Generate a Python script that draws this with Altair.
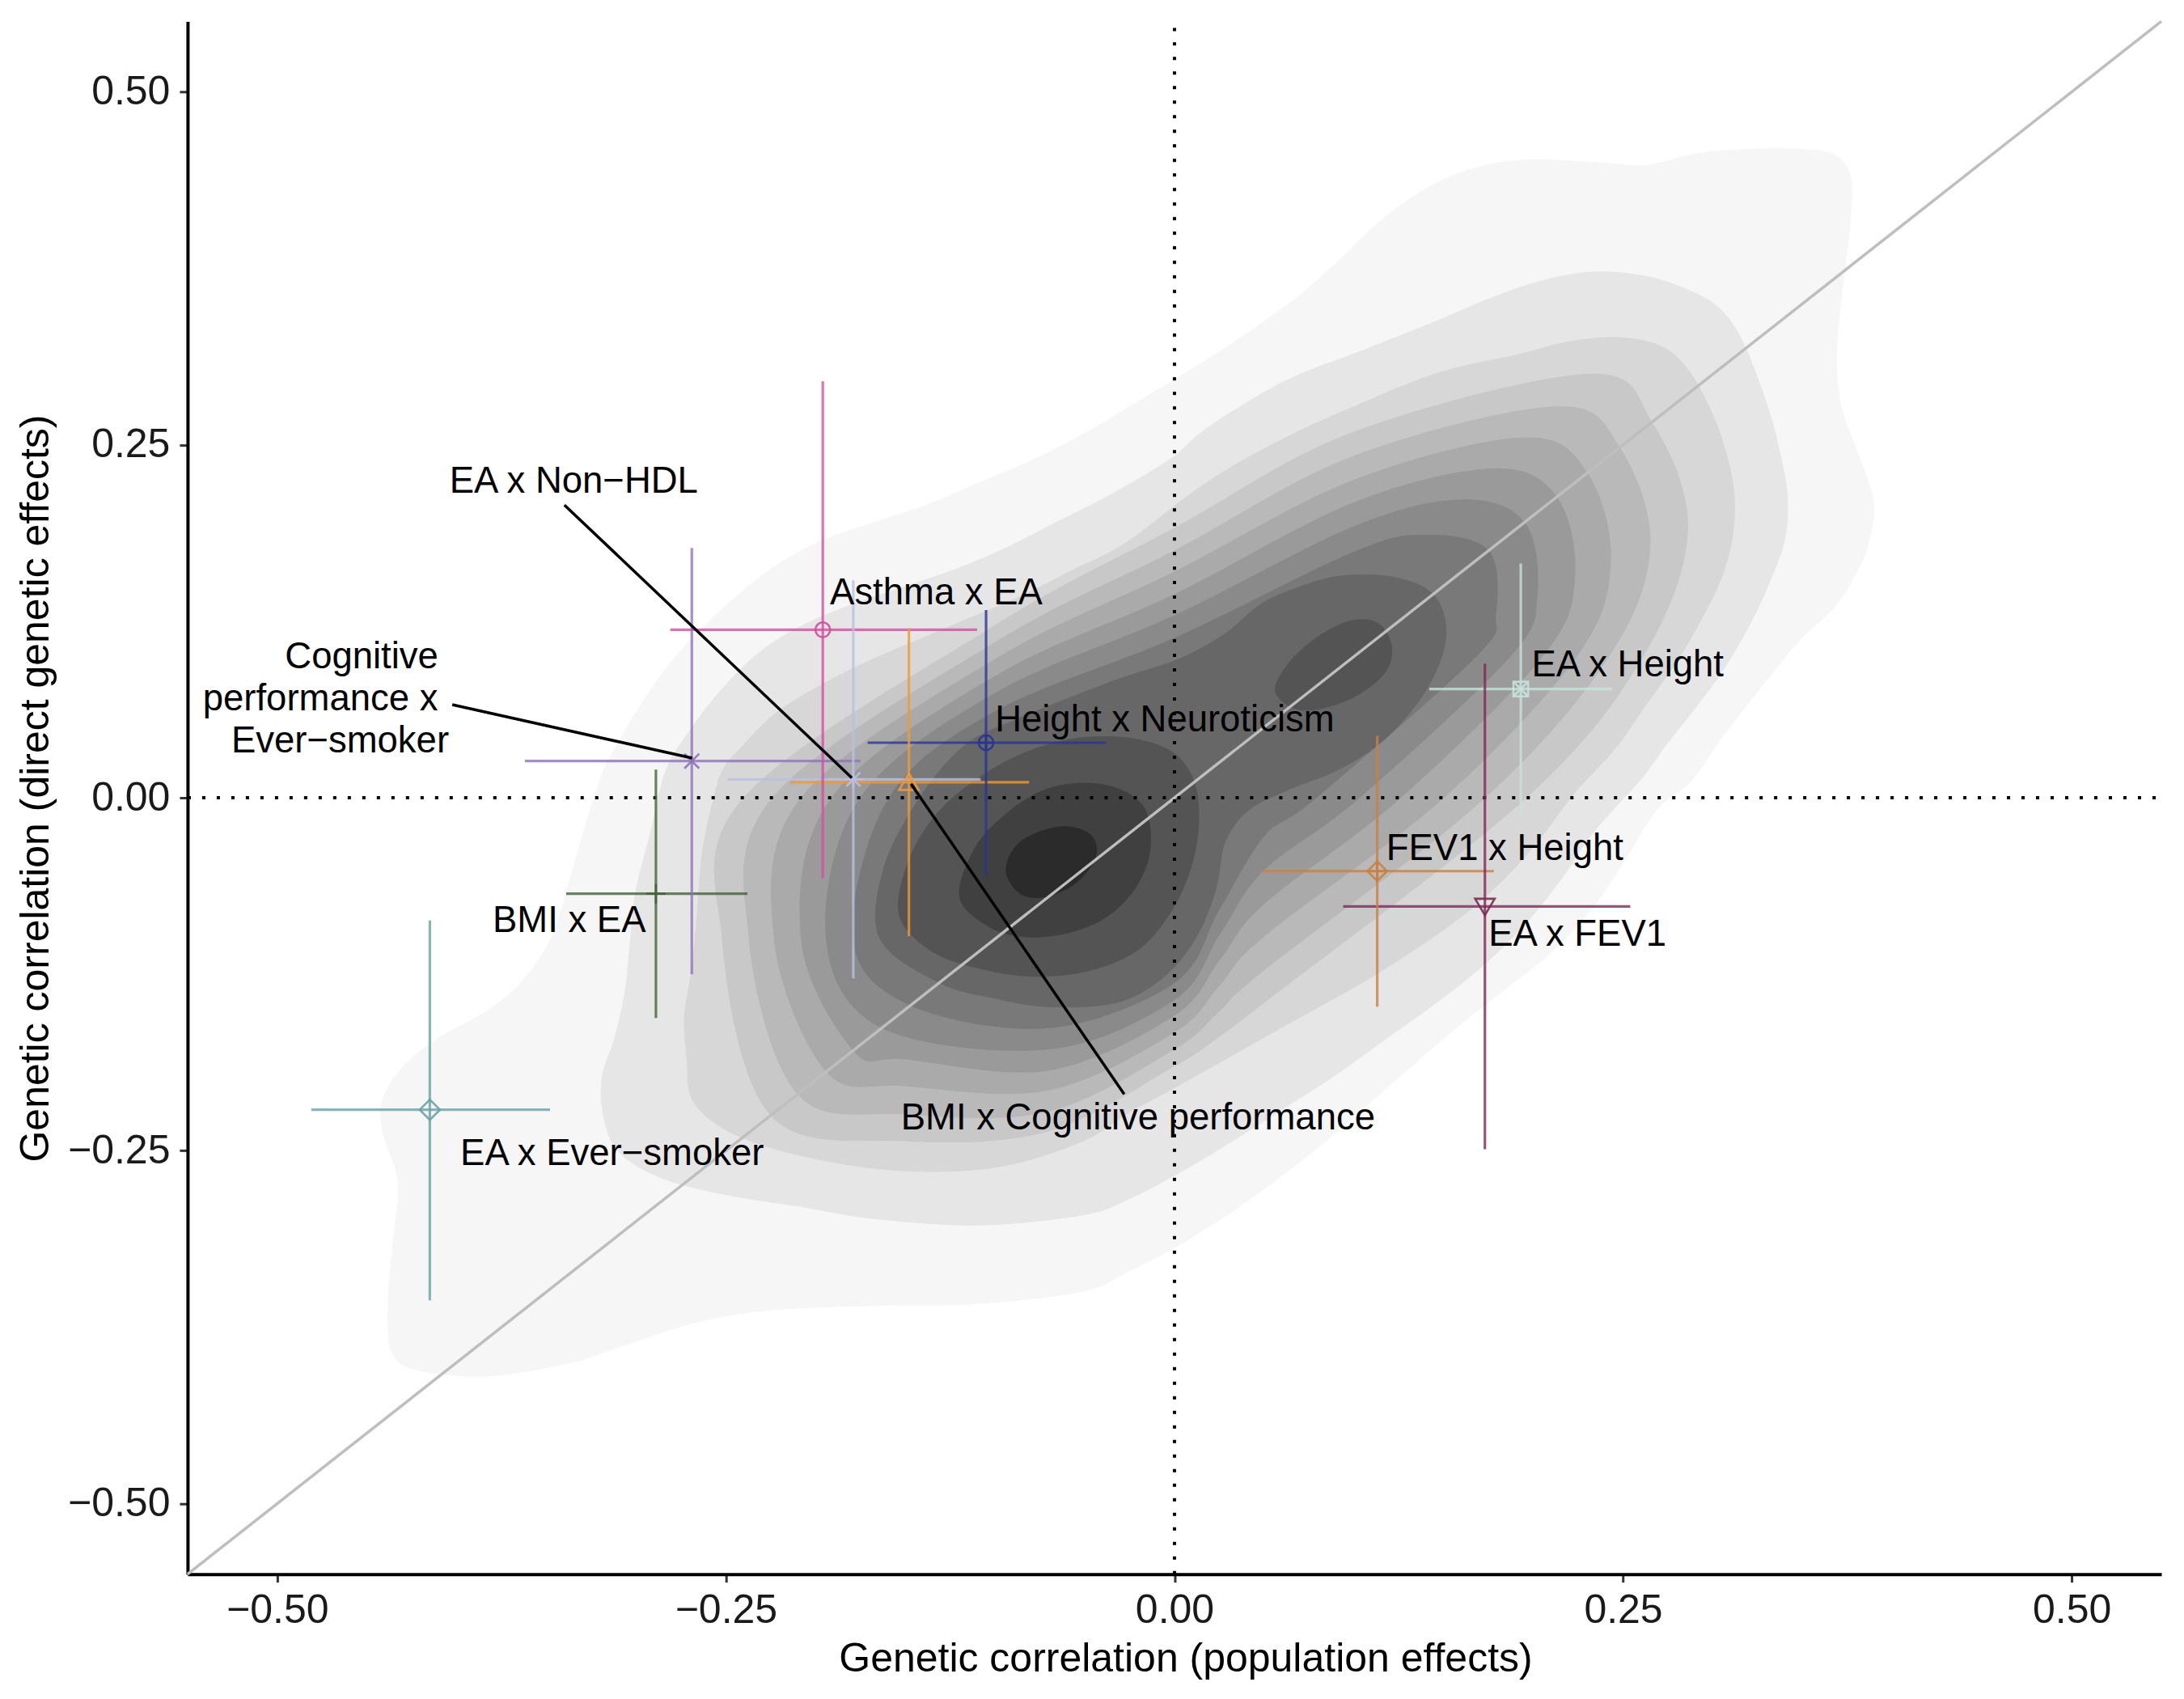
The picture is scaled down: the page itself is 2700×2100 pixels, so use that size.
import altair as alt
import pandas as pd

# ---------------- point estimates and 95% intervals ----------------
pairs = ["Asthma x EA", "Cognitive performance x Ever−smoker", "EA x Non−HDL",
         "BMI x Cognitive performance", "Height x Neuroticism", "BMI x EA",
         "EA x Ever−smoker", "EA x Height", "FEV1 x Height", "EA x FEV1"]
pop_est = [-0.196, -0.269, -0.179, -0.148, -0.105, -0.289, -0.415, 0.193, 0.113, 0.173]
pop_lo = [-0.281, -0.362, -0.249, -0.214, -0.171, -0.339, -0.481, 0.142, 0.049, 0.094]
pop_hi = [-0.110, -0.175, -0.108, -0.081, -0.038, -0.238, -0.348, 0.244, 0.178, 0.254]
dir_est = [0.119, 0.026, 0.013, 0.011, 0.039, -0.068, -0.221, 0.077, -0.052, -0.077]
dir_lo = [-0.057, -0.125, -0.128, -0.098, -0.055, -0.156, -0.356, -0.012, -0.148, -0.249]
dir_hi = [0.295, 0.177, 0.154, 0.120, 0.133, 0.020, -0.087, 0.166, 0.044, 0.095]
pt_colors = ["#d0509f", "#8e72bd", "#b8c0e4", "#ec9a3a", "#283593",
             "#43643c", "#6ba2a8", "#c6e4dc", "#cc8040", "#7d2a55"]
pt_shapes = [
    "M-1.05,0A1.05,1.05,0,1,1,1.05,0A1.05,1.05,0,1,1,-1.05,0Z",
    "M-1.05,-1.05L1.05,1.05M-1.05,1.05L1.05,-1.05",
    "M-1,-1L1,1M-1,1L1,-1M0,-1.2L0,1.2M-1.2,0L1.2,0",
    "M0,-1.25L1.4,1.1L-1.4,1.1Z",
    "M-1.05,0A1.05,1.05,0,1,1,1.05,0A1.05,1.05,0,1,1,-1.05,0ZM-1.05,0L1.05,0M0,-1.05L0,1.05",
    "M-1.4,0L1.4,0M0,-1.4L0,1.4",
    "M0,-1.45L1.45,0L0,1.45L-1.45,0Z",
    "M-1.05,-1.05L1.05,-1.05L1.05,1.05L-1.05,1.05ZM-1.05,-1.05L1.05,1.05M-1.05,1.05L1.05,-1.05",
    "M0,-1.4L1.4,0L0,1.4L-1.4,0ZM-1.4,0L1.4,0M0,-1.4L0,1.4",
    "M0,1.25L1.4,-1.1L-1.4,-1.1Z",
]

# ---------------- labels and leader lines ----------------
label_text = ["Asthma x EA", "EA x Non−HDL", "Cognitive", "performance x", "Ever−smoker",
              "Height x Neuroticism", "EA x Height", "FEV1 x Height", "EA x FEV1",
              "BMI x EA", "EA x Ever−smoker", "BMI x Cognitive performance"]
label_x = [-0.192, -0.404, -0.453, -0.476, -0.465, -0.100, 0.199, 0.118, 0.175,
           -0.380, -0.398, -0.1525]
label_y = [0.145, 0.224, 0.100, 0.070, 0.040, 0.055, 0.094, -0.036, -0.097,
           -0.087, -0.252, -0.227]
label_align = ["left", "left", "center", "center", "center", "left", "left", "left",
               "left", "left", "left", "left"]
leader_x1 = [-0.340, -0.4025, -0.028]
leader_y1 = [0.2074, 0.0659, -0.2101]
leader_x2 = [-0.1798, -0.2688, -0.1468]
leader_y2 = [0.0141, 0.0281, 0.0098]

# ---------------- density contour bands ----------------
poly_L01 = [(-0.4182,-0.4064),(-0.4355,-0.3948),(-0.4383,-0.3597),(-0.4355,-0.3159),(-0.4326,-0.2721),
            (-0.4412,-0.2370),(-0.4412,-0.2136),(-0.4297,-0.1903),(-0.4096,-0.1698),(-0.3809,-0.1494),
            (-0.3608,-0.1260),(-0.3464,-0.0968),(-0.3378,-0.0618),(-0.3292,-0.0238),(-0.3205,0.0113),
            (-0.3148,0.0282),(-0.2976,0.0654),(-0.2803,0.0964),(-0.2573,0.1275),(-0.2286,0.1585),
            (-0.1999,0.1802),(-0.1654,0.1957),(-0.1367,0.2081),(-0.1079,0.2236),(-0.0792,0.2391),
            (-0.0505,0.2578),(-0.0218,0.2795),(0.0183,0.3105),(0.0614,0.3477),(0.0901,0.3787),
            (0.1131,0.4067),(0.1361,0.4284),(0.1619,0.4439),(0.1936,0.4516),(0.2338,0.4501),
            (0.2625,0.4479),(0.2913,0.4563),(0.3200,0.4594),(0.3487,0.4594),(0.3660,0.4563),
            (0.3746,0.4470),(0.3774,0.4315),(0.3760,0.4005),(0.3731,0.3694),(0.3703,0.3384),
            (0.3689,0.3074),(0.3717,0.2764),(0.3803,0.2454),(0.3889,0.2143),(0.3889,0.1926),
            (0.3832,0.1678),(0.3689,0.1368),(0.3487,0.1120),(0.3286,0.0809),(0.3056,0.0437),
            (0.2884,0.0127),(0.2683,-0.0092),(0.2510,-0.0442),(0.2338,-0.0764),(0.2108,-0.1085),
            (0.1821,-0.1377),(0.1533,-0.1669),(0.1189,-0.2049),(0.0901,-0.2370),(0.0614,-0.2662),
            (0.0327,-0.2925),(0.0039,-0.3159),(-0.0248,-0.3349),(-0.0505,-0.3495),(-0.1079,-0.3582),
            (-0.1654,-0.3597),(-0.2229,-0.3626),(-0.2660,-0.3714),(-0.3090,-0.3889),(-0.3378,-0.4006),
            (-0.3809,-0.4094)]
poly_L02 = [(-0.2832,0.0200),(-0.2688,0.0499),(-0.2516,0.0778),(-0.2315,0.1027),(-0.2085,0.1213),
            (-0.1798,0.1368),(-0.1510,0.1492),(-0.1223,0.1616),(-0.0936,0.1771),(-0.0648,0.1957),
            (-0.0361,0.2143),(-0.0022,0.2400),(0.0183,0.2620),(0.0614,0.2950),(0.1046,0.3167),
            (0.1476,0.3384),(0.1763,0.3539),(0.2051,0.3663),(0.2338,0.3725),(0.2625,0.3694),
            (0.2855,0.3601),(0.3028,0.3477),(0.3142,0.3291),(0.3229,0.3043),(0.3315,0.2733),
            (0.3372,0.2454),(0.3415,0.2143),(0.3401,0.1833),(0.3315,0.1523),(0.3200,0.1213),
            (0.3056,0.0902),(0.2913,0.0654),(0.2740,0.0375),(0.2597,0.0127),(0.2338,-0.0238),
            (0.2165,-0.0559),(0.1964,-0.0881),(0.1734,-0.1173),(0.1476,-0.1436),(0.1189,-0.1698),
            (0.0901,-0.1961),(0.0614,-0.2195),(0.0327,-0.2429),(0.0039,-0.2648),(-0.0248,-0.2838),
            (-0.0505,-0.2954),(-0.1079,-0.3027),(-0.1654,-0.2984),(-0.2085,-0.2896),(-0.2516,-0.2808),
            (-0.2861,-0.2692),(-0.3090,-0.2516),(-0.3177,-0.2283),(-0.3191,-0.1990),(-0.3119,-0.1698),
            (-0.3062,-0.1377),(-0.3033,-0.1027),(-0.3004,-0.0676),(-0.2918,-0.0238)]
poly_L03 = [(-0.2516,0.0200),(-0.2401,0.0375),(-0.2229,0.0592),(-0.1999,0.0778),(-0.1711,0.0964),
            (-0.1424,0.1120),(-0.1137,0.1275),(-0.0849,0.1430),(-0.0562,0.1616),(-0.0275,0.1802),
            (0.0183,0.2236),(0.0614,0.2547),(0.1046,0.2795),(0.1476,0.3012),(0.1907,0.3136),
            (0.2194,0.3229),(0.2481,0.3260),(0.2711,0.3198),(0.2855,0.3043),(0.2970,0.2795),
            (0.3056,0.2516),(0.3114,0.2205),(0.3114,0.1895),(0.3056,0.1585),(0.2941,0.1275),
            (0.2798,0.0964),(0.2625,0.0654),(0.2453,0.0344),(0.2223,0.0025),(0.2051,-0.0267),
            (0.1850,-0.0559),(0.1619,-0.0822),(0.1361,-0.1056),(0.1074,-0.1289),(0.0786,-0.1494),
            (0.0499,-0.1698),(0.0212,-0.1903),(-0.0075,-0.2107),(-0.0248,-0.2224),(-0.0505,-0.2429),
            (-0.0936,-0.2604),(-0.1367,-0.2648),(-0.1798,-0.2604),(-0.2229,-0.2487),(-0.2516,-0.2341),
            (-0.2688,-0.2136),(-0.2717,-0.1844),(-0.2731,-0.1552),(-0.2688,-0.1202),(-0.2660,-0.0822),
            (-0.2631,-0.0384),(-0.2573,-0.0033)]
poly_L04 = [(-0.225,-0.225),(-0.252,-0.100),(-0.240,0.000),(-0.100,0.122),(0.000,0.191),(0.100,0.259),
            (0.231,0.300),(0.266,0.266),(0.286,0.190),(0.261,0.100),(0.196,0.000),(0.050,-0.145),
            (0.025,-0.169),(0.000,-0.190),(-0.070,-0.236),(-0.150,-0.243)]
poly_L05 = [(-0.210,-0.210),(-0.237,-0.100),(-0.224,0.000),(-0.100,0.110),(0.000,0.175),(0.100,0.242),
            (0.213,0.277),(0.248,0.248),(0.265,0.178),(0.242,0.100),(0.173,0.000),(0.050,-0.122),
            (0.025,-0.151),(0.000,-0.178),(-0.070,-0.222),(-0.150,-0.224)]
poly_L06 = [(-0.194,-0.194),(-0.223,-0.100),(-0.208,0.000),(-0.100,0.098),(0.000,0.160),(0.100,0.225),
            (0.195,0.255),(0.230,0.230),(0.243,0.166),(0.224,0.100),(0.150,0.000),(0.050,-0.098),
            (0.025,-0.133),(0.000,-0.166),(-0.070,-0.207),(-0.150,-0.204)]
poly_L07 = [(-0.179,-0.179),(-0.208,-0.100),(-0.191,0.000),(-0.100,0.086),(0.000,0.144),(0.100,0.209),
            (0.178,0.233),(0.213,0.213),(0.223,0.155),(0.205,0.100),(0.126,0.000),(0.050,-0.075),
            (0.025,-0.115),(0.000,-0.154),(-0.070,-0.193),(-0.150,-0.185)]
poly_L08 = [(-0.163,-0.163),(-0.194,-0.100),(-0.175,0.000),(-0.100,0.074),(0.000,0.129),(0.100,0.192),
            (0.160,0.211),(0.195,0.195),(0.202,0.143),(0.187,0.100),(0.103,0.000),(0.050,-0.051),
            (0.025,-0.097),(0.000,-0.143),(-0.070,-0.178)]
poly_L09 = [(-0.147,-0.147),(-0.179,-0.100),(-0.159,0.000),(-0.100,0.061),(0.000,0.113),(0.100,0.174),
            (0.140,0.186),(0.175,0.175),(0.179,0.130),(0.168,0.100),(0.079,0.000),(0.050,-0.027),
            (0.025,-0.079),(0.000,-0.131),(-0.070,-0.163)]
poly_L10 = [(-0.131,-0.131),(-0.164,-0.100),(-0.162,-0.050),(-0.142,0.000),(-0.117,0.037),(-0.089,0.055),
            (-0.060,0.070),(-0.029,0.085),(0.002,0.098),(0.028,0.116),(0.048,0.137),(0.069,0.149),
            (0.092,0.157),(0.118,0.157),(0.139,0.149),(0.149,0.134),(0.151,0.111),(0.144,0.085),
            (0.131,0.060),(0.113,0.037),(0.090,0.019),(0.064,0.006),(0.041,-0.009),(0.028,-0.032),
            (0.023,-0.065),(0.012,-0.099),(-0.006,-0.127),(-0.032,-0.145),(-0.070,-0.148),(-0.100,-0.142)]
poly_L11a = [(-0.1533,-0.0832),(-0.1481,-0.0448),(-0.1326,-0.0116),(-0.1093,0.0139),(-0.0835,0.0318),
             (-0.0550,0.0420),(-0.0240,0.0420),(-0.0007,0.0318),(0.0109,0.0114),(0.0135,-0.0167),
             (0.0096,-0.0474),(-0.0007,-0.0780),(-0.0188,-0.1062),(-0.0447,-0.1215),(-0.0757,-0.1266),
             (-0.1067,-0.1215),(-0.1352,-0.1087)]
poly_L11b = [(0.0562,0.0753),(0.0639,0.0957),(0.0795,0.1136),(0.0976,0.1251),(0.1131,0.1238),
             (0.1208,0.1085),(0.1183,0.0906),(0.1053,0.0753),(0.0872,0.0650),(0.0691,0.0625)]
poly_L12 = [(-0.1197,-0.0704),(-0.1119,-0.0372),(-0.0964,-0.0142),(-0.0757,0.0037),(-0.0550,0.0101),
            (-0.0343,0.0076),(-0.0188,-0.0039),(-0.0136,-0.0218),(-0.0149,-0.0448),(-0.0240,-0.0678),
            (-0.0395,-0.0857),(-0.0602,-0.0959),(-0.0835,-0.0985),(-0.1041,-0.0908)]
poly_L13 = [(-0.0938,-0.0525),(-0.0886,-0.0346),(-0.0757,-0.0244),(-0.0602,-0.0205),(-0.0473,-0.0257),
            (-0.0434,-0.0372),(-0.0473,-0.0499),(-0.0576,-0.0627),(-0.0731,-0.0704),(-0.0860,-0.0678)]

band_fills = ["#f6f6f6", "#e6e6e6", "#d7d7d7", "#c8c8c8", "#b9b9b9", "#aaaaaa", "#9a9a9a",
              "#8a8a8a", "#797979", "#676767", "#545454", "#404040", "#2b2b2b"]
polygons = [poly_L01, poly_L02, poly_L03, poly_L04, poly_L05, poly_L06, poly_L07, poly_L08,
            poly_L09, poly_L10, poly_L11a, poly_L11b, poly_L12, poly_L13]
polygon_band = [0, 1, 2, 3, 4, 5, 6, 7, 8, 9, 10, 10, 11, 12]

# ---------------- build tables ----------------
rows = []
for k, poly in enumerate(polygons):
    for i, (px, py) in enumerate(poly):
        rows.append({"poly": k, "i": i, "x": px, "y": py})
contours = pd.DataFrame(rows)

pts = pd.DataFrame({"pair": pairs, "x": pop_est, "y": dir_est, "xlo": pop_lo, "xhi": pop_hi,
                    "ylo": dir_lo, "yhi": dir_hi, "color": pt_colors, "shape": pt_shapes})
labels = pd.DataFrame({"text": label_text, "x": label_x, "y": label_y, "align": label_align})
leaders = pd.DataFrame({"x": leader_x1, "y": leader_y1, "x2": leader_x2, "y2": leader_y2})
ref_diag = pd.DataFrame({"x": [-0.55], "y": [-0.55], "x2": [0.55], "y2": [0.55]})
ref_v = pd.DataFrame({"x": [0.0], "y": [-0.55], "y2": [0.55]})
ref_h = pd.DataFrame({"y": [0.0], "x": [-0.55], "x2": [0.55]})

FONT = "Liberation Sans"
xs = alt.Scale(domain=[-0.55, 0.55], nice=False, zero=False)
ys = alt.Scale(domain=[-0.55, 0.55], nice=False, zero=False)
ax_x = alt.Axis(title="Genetic correlation (population effects)", values=[-0.5, -0.25, 0, 0.25, 0.5],
                format=".2f", grid=False, labelPadding=10, titlePadding=10, titleX=1234)
ax_y = alt.Axis(title="Genetic correlation (direct genetic effects)", values=[-0.5, -0.25, 0, 0.25, 0.5],
                format=".2f", grid=False, labelPadding=12, titlePadding=14, titleY=948)

def X(f):
    return alt.X(f, type="quantitative", scale=xs, axis=ax_x)

def Y(f):
    return alt.Y(f, type="quantitative", scale=ys, axis=ax_y)

layers = []
for k in range(len(polygons)):
    col = band_fills[polygon_band[k]]
    layers.append(
        alt.Chart(contours).transform_filter(alt.datum.poly == k)
        .mark_line(interpolate="cardinal-closed", fill=col, stroke=col, strokeWidth=1)
        .encode(x=X("x"), y=Y("y"), order=alt.Order("i:Q"))
    )

layers.append(alt.Chart(ref_diag).mark_rule(color="#bebebe", strokeWidth=3.5)
              .encode(x=X("x"), y=Y("y"), x2="x2", y2="y2"))
layers.append(alt.Chart(ref_v).mark_rule(color="black", strokeWidth=4, strokeDash=[4, 14])
              .encode(x=X("x"), y=Y("y"), y2="y2"))
layers.append(alt.Chart(ref_h).mark_rule(color="black", strokeWidth=4, strokeDash=[4, 14])
              .encode(x=X("x"), x2="x2", y=Y("y")))
layers.append(alt.Chart(pts).mark_rule(strokeWidth=3.2, opacity=0.8)
              .encode(x=X("xlo"), x2="xhi", y=Y("y"), color=alt.Color("color:N", scale=None)))
layers.append(alt.Chart(pts).mark_rule(strokeWidth=3.2, opacity=0.8)
              .encode(x=X("x"), y=Y("ylo"), y2="yhi", color=alt.Color("color:N", scale=None)))
layers.append(alt.Chart(pts).mark_point(filled=False, size=300, strokeWidth=2.6, opacity=0.9)
              .encode(x=X("x"), y=Y("y"), color=alt.Color("color:N", scale=None),
                      shape=alt.Shape("shape:N", scale=None)))
layers.append(alt.Chart(leaders).mark_rule(color="black", strokeWidth=3.5)
              .encode(x=X("x"), y=Y("y"), x2="x2", y2="y2"))
for al in ["left", "center"]:
    layers.append(alt.Chart(labels).transform_filter(alt.datum.align == al)
                  .mark_text(align=al, baseline="middle", fontSize=45.5, font=FONT, color="black")
                  .encode(x=X("x"), y=Y("y"), text="text:N"))

chart = alt.layer(*layers).properties(
    width=2441, height=1920,
    autosize=alt.AutoSizeParams(type="none"),
    padding={"left": 224, "top": 18, "right": 20, "bottom": 150},
).configure_view(stroke=None).configure_axis(
    domainColor="black", domainWidth=4, tickColor="#333333", tickWidth=3, tickSize=10,
    labelFont=FONT, labelFontSize=50, labelColor="#1a1a1a",
    titleFont=FONT, titleFontSize=50, titleFontWeight="normal", titleColor="black",
)

chart.save("out.html", embed_options={"renderer": "svg", "actions": False})
